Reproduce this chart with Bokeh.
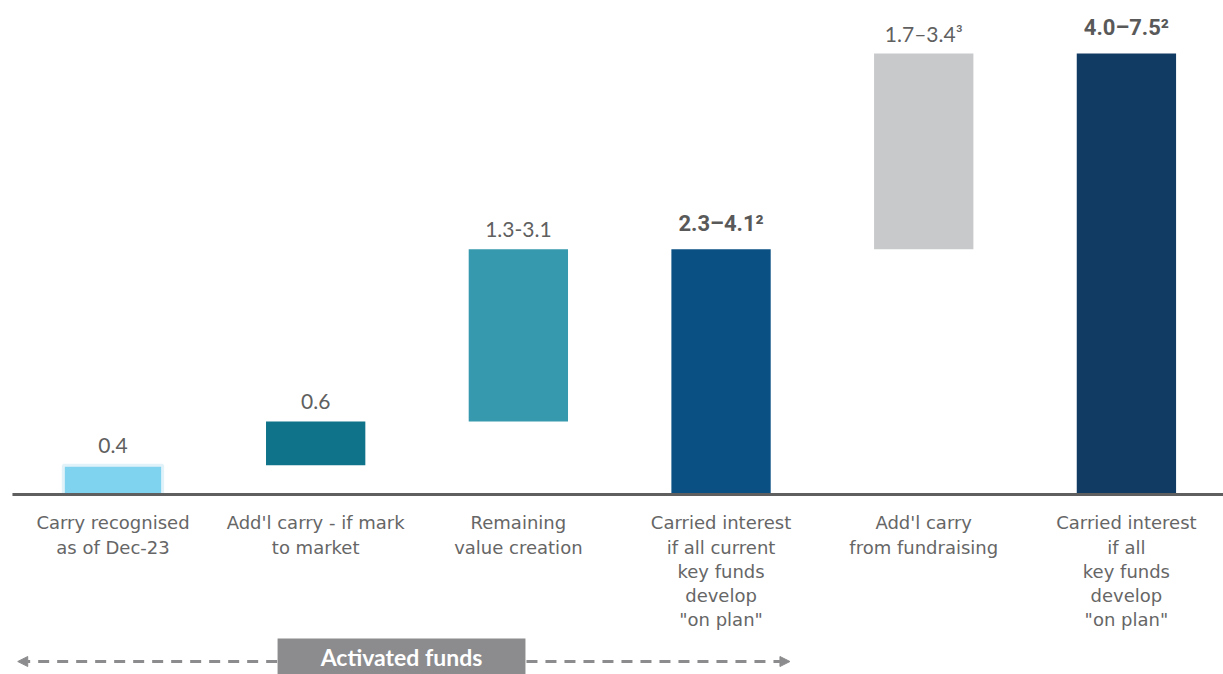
from bokeh.plotting import figure
from bokeh.models import Range1d, ColumnDataSource, Arrow, NormalHead
from bokeh.core.properties import value
from bokeh.embed import file_html
from bokeh.resources import INLINE

# ---- data (visual heights, schematic waterfall) ----
categories = [
    "Carry recognised\nas of Dec-23",
    "Add'l carry - if mark\nto market",
    "Remaining\nvalue creation",
    "Carried interest\nif all current\nkey funds\ndevelop\n\"on plan\"",
    "Add'l carry\nfrom fundraising",
    "Carried interest\nif all\nkey funds\ndevelop\n\"on plan\"",
]
bar_bottoms = [0.0, 0.4, 1.0, 0.0, 3.36, 0.0]
bar_tops = [0.4, 1.0, 3.36, 3.36, 6.04, 6.04]
value_labels = ["0.4", "0.6", "1.3-3.1", "2.3–4.1²", "1.7–3.4³", "4.0–7.5²"]
label_bold = [False, False, False, True, False, True]
bracket_label = "Activated funds"

# ---- styles ----
bar_colors = ["#7fd3ee", "#0f7389", "#3699ae", "#0b5083", "#c8c9cb", "#113b63"]
bar_lines = ["#e2f2f9", None, None, None, None, None]
text_color = "#595959"
FONT = "Lato"
CAT_FONT = "DejaVu Sans"
GREY = "#8c8c8e"

xs = list(range(len(categories)))

p = figure(width=1223, height=674, x_range=Range1d(-0.555, 5.479),
           y_range=Range1d(-2.466, 6.767), output_backend="svg",
           toolbar_location=None, min_border=0)
p.axis.visible = False
p.grid.visible = False
p.outline_line_color = None
p.background_fill_color = "white"
p.border_fill_color = "white"

src = ColumnDataSource(dict(x=xs, bottom=bar_bottoms, top=bar_tops,
                            color=bar_colors,
                            line=[c if c else col for c, col in zip(bar_lines, bar_colors)],
                            lw=[3 if c else 0 for c in bar_lines]))
p.vbar(x="x", bottom="bottom", top="top", width=0.49, fill_color="color",
       line_color="line", line_width="lw", source=src)

# baseline
p.segment(x0=[-0.496], y0=[0], x1=[5.479], y1=[0], line_color="#5f5f5f", line_width=3)

# value labels
norm_idx = [i for i in xs if not label_bold[i]]
bold_idx = [i for i in xs if label_bold[i]]
p.text(x=[xs[i] for i in norm_idx], y=[bar_tops[i] for i in norm_idx],
       text=[value_labels[i] for i in norm_idx], text_align="center",
       text_baseline="middle", y_offset=-20, text_font=value(FONT),
       text_font_size="21px", text_color="#606060")
p.text(x=[xs[i] for i in bold_idx], y=[bar_tops[i] for i in bold_idx],
       text=[value_labels[i] for i in bold_idx], text_align="center",
       text_baseline="middle", y_offset=-26, text_font=value("Roboto"),
       text_font_style="bold", text_font_size="22px", text_color=text_color)

# category labels
p.text(x=xs, y=[0] * len(xs), text=categories, text_align="center",
       text_baseline="top", y_offset=18, text_font=value(CAT_FONT),
       text_font_size="18px", text_color="#666666", text_line_height=1.145)

# activated funds bracket
ay = -2.288
head = dict(size=10, fill_color=GREY, line_color=GREY)
p.add_layout(Arrow(x_start=0.81, y_start=ay, x_end=-0.47, y_end=ay,
                   line_color=GREY, line_width=3, line_dash="11 8",
                   end=NormalHead(**head)))
p.add_layout(Arrow(x_start=2.04, y_start=ay, x_end=3.34, y_end=ay,
                   line_color=GREY, line_width=3, line_dash="11 8",
                   end=NormalHead(**head)))
p.quad(left=[0.812], right=[2.035], bottom=[-2.47], top=[-1.973],
       fill_color=GREY, line_color=None)
p.text(x=[(0.812 + 2.035) / 2], y=[(-2.47 - 1.973) / 2], text=[bracket_label],
       text_align="center", text_baseline="middle", text_font=value(FONT),
       text_font_style="bold", text_font_size="23px", text_color="white")

open("out.html", "w").write(file_html(p, INLINE))
